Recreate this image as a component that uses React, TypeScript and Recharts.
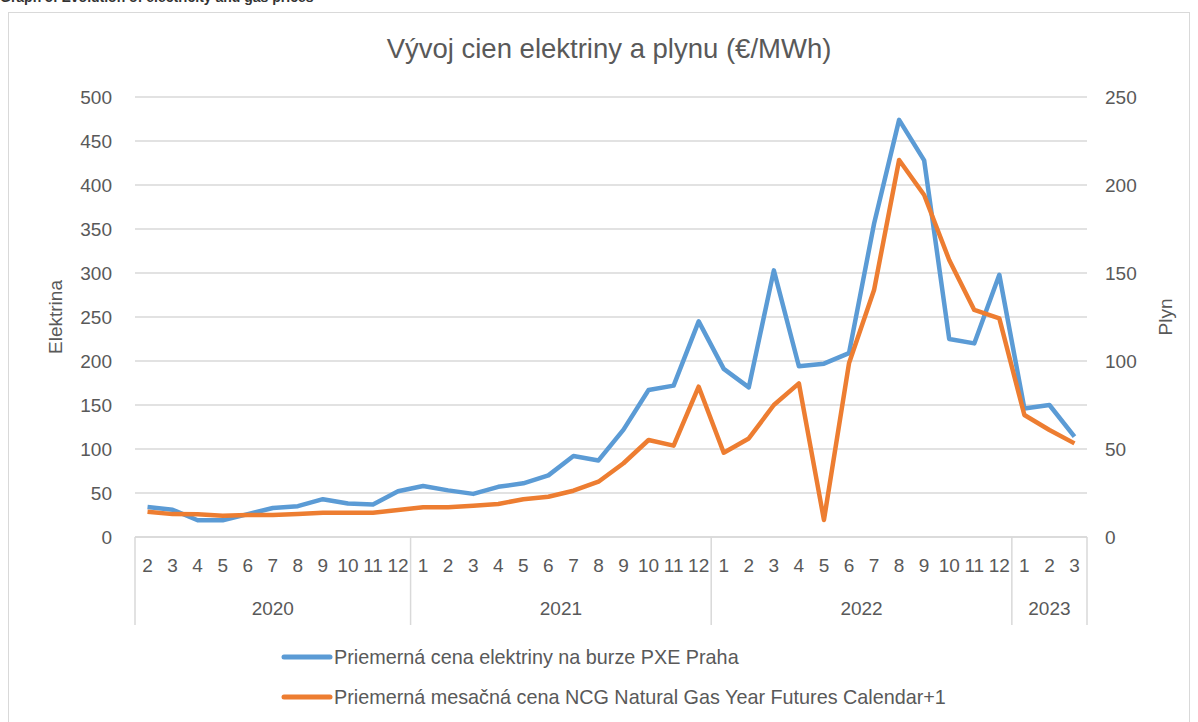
import React from "react";
import { LineChart, Line, XAxis, YAxis, CartesianGrid } from "recharts";

// months 2/2020 .. 3/2023
const MONTHS = [
  2, 3, 4, 5, 6, 7, 8, 9, 10, 11, 12,
  1, 2, 3, 4, 5, 6, 7, 8, 9, 10, 11, 12,
  1, 2, 3, 4, 5, 6, 7, 8, 9, 10, 11, 12,
  1, 2, 3,
];
const YEARS = ["2020", "2021", "2022", "2023"];

// Elektrina (left axis)
const ELECTRICITY = [
  34, 31, 19, 19, 26, 33, 35, 43, 38, 37, 52,
  58, 53, 49, 57, 61, 70, 92, 87, 122, 167, 172, 245,
  191, 170, 303, 194, 197, 209, 356, 474, 428, 225, 220, 298,
  146, 150, 114,
];
// Plyn (right axis)
const GAS = [
  14.4, 13, 12.9, 12.1, 12.5, 12.5, 13, 13.8, 13.8, 13.8, 15.3,
  16.9, 16.9, 17.8, 18.8, 21.4, 22.9, 26.3, 31.4, 41.9, 55.1, 51.9, 85.4,
  47.9, 56, 75, 87.3, 9.7, 98.7, 140.3, 214.2, 194.3, 157.4, 129, 124.2,
  69.3, 60.8, 53.2,
];

const LEFT_TICKS = [0, 50, 100, 150, 200, 250, 300, 350, 400, 450, 500];
const RIGHT_TICKS = [0, 50, 100, 150, 200, 250];

const TITLE = "Vývoj cien elektriny a plynu (€/MWh)";
const CAPTION = "Graph 5: Evolution of electricity and gas prices";
const ELEC_NAME = "Priemerná cena elektriny na burze PXE Praha";
const GAS_NAME = "Priemerná mesačná cena NCG Natural Gas Year Futures Calendar+1";

const BLUE = "#5B9BD5";
const ORANGE = "#ED7D31";
const TEXT = "#595959";
const GRID = "#D9D9D9";
const FONT = "'Liberation Sans', Arial, sans-serif";

const W = 1198;
const H = 722;
const PLOT_LEFT = 135;
const PLOT_RIGHT = 1087;
const BW = (PLOT_RIGHT - PLOT_LEFT) / MONTHS.length;

const data = MONTHS.map((m, i) => ({
  key: String(i),
  elec: ELECTRICITY[i],
  gas: GAS[i],
}));

// year groups: a new one starts when the month number drops
const groups: { start: number; len: number; year: string }[] = [];
MONTHS.forEach((m, i) => {
  if (i === 0 || m < MONTHS[i - 1]) {
    groups.push({ start: i, len: 1, year: YEARS[groups.length] });
  } else {
    groups[groups.length - 1].len += 1;
  }
});

const MonthTick = (props: any) => {
  const { x, y, payload } = props;
  const i = Number(payload.value);
  const g = groups.find((gr) => gr.start === i);
  return (
    <g>
      <text x={x} y={y + 35} textAnchor="middle" fill={TEXT} fontSize={19}>
        {MONTHS[i]}
      </text>
      {g && (
        <>
          <line x1={x - BW / 2} x2={x - BW / 2} y1={y} y2={y + 88} stroke={GRID} strokeWidth={1.5} />
          <text x={x - BW / 2 + (g.len * BW) / 2} y={y + 78} textAnchor="middle" fill={TEXT} fontSize={19}>
            {g.year}
          </text>
        </>
      )}
      {i === MONTHS.length - 1 && (
        <line x1={x + BW / 2} x2={x + BW / 2} y1={y} y2={y + 88} stroke={GRID} strokeWidth={1.5} />
      )}
    </g>
  );
};

const axisTitle = (text: string, cx: number) => (p: any) => {
  const vb = p.viewBox;
  const cy = vb.y + vb.height / 2;
  return (
    <text x={cx} y={cy} transform={`rotate(-90 ${cx} ${cy})`} textAnchor="middle" dominantBaseline="central" fill={TEXT} fontSize={19}>
      {text}
    </text>
  );
};

const LegendRow = ({ color, label, top }: { color: string; label: string; top: number }) => (
  <div style={{ position: "absolute", left: 280, top, display: "flex", alignItems: "center", height: 24 }}>
    <svg width={54} height={10}>
      <line x1={4} x2={50} y1={5} y2={5} stroke={color} strokeWidth={5} strokeLinecap="round" />
    </svg>
    <span style={{ fontSize: 19.8, color: TEXT, whiteSpace: "nowrap" }}>{label}</span>
  </div>
);

export default function App() {
  return (
    <div style={{ position: "absolute", left: 0, top: 0, width: W, height: H, background: "#fff", fontFamily: FONT, overflow: "hidden" }}>
      <div style={{ position: "absolute", left: 0, top: -10, fontSize: 14, fontWeight: "bold", color: "#333", whiteSpace: "nowrap", lineHeight: "14px" }}>
        {CAPTION}
      </div>
      <div style={{ position: "absolute", left: 8, top: 12, width: 1180, height: H, border: `1.5px solid ${GRID}` }} />
      <div style={{ position: "absolute", left: 0, top: 33, width: 1218, textAlign: "center", fontSize: 27.5, color: TEXT, whiteSpace: "nowrap" }}>
        {TITLE}
      </div>
      <div style={{ position: "absolute", left: 0, top: 0 }}>
        <LineChart width={W} height={H} data={data} margin={{ top: 97, right: 0, left: 0, bottom: 95 }}>
          <CartesianGrid yAxisId="left" vertical={false} stroke={GRID} strokeWidth={1.5} />
          <XAxis
            dataKey="key"
            interval={0}
            padding={{ left: BW / 2, right: BW / 2 }}
            height={90}
            tickSize={0}
            tickMargin={0}
            tickLine={false}
            axisLine={{ stroke: GRID, strokeWidth: 1.5 }}
            tick={<MonthTick />}
          />
          <YAxis
            yAxisId="left"
            domain={[0, 500]}
            ticks={LEFT_TICKS}
            width={135}
            axisLine={false}
            tickLine={false}
            tickMargin={17}
            tick={{ fill: TEXT, fontSize: 19 }}
            label={{ content: axisTitle("Elektrina", 55) }}
          />
          <YAxis
            yAxisId="right"
            orientation="right"
            domain={[0, 250]}
            ticks={RIGHT_TICKS}
            width={111}
            axisLine={false}
            tickLine={false}
            tickMargin={12}
            tick={{ fill: TEXT, fontSize: 19, textAnchor: "start" }}
            label={{ content: axisTitle("Plyn", 1165) }}
          />
          <Line yAxisId="left" type="linear" dataKey="elec" name={ELEC_NAME} stroke={BLUE} strokeWidth={4.5} dot={false} strokeLinejoin="round" isAnimationActive={false} />
          <Line yAxisId="right" type="linear" dataKey="gas" name={GAS_NAME} stroke={ORANGE} strokeWidth={4.5} dot={false} strokeLinejoin="round" isAnimationActive={false} />
        </LineChart>
      </div>
      <LegendRow color={BLUE} label={ELEC_NAME} top={645} />
      <LegendRow color={ORANGE} label={GAS_NAME} top={685} />
    </div>
  );
}
